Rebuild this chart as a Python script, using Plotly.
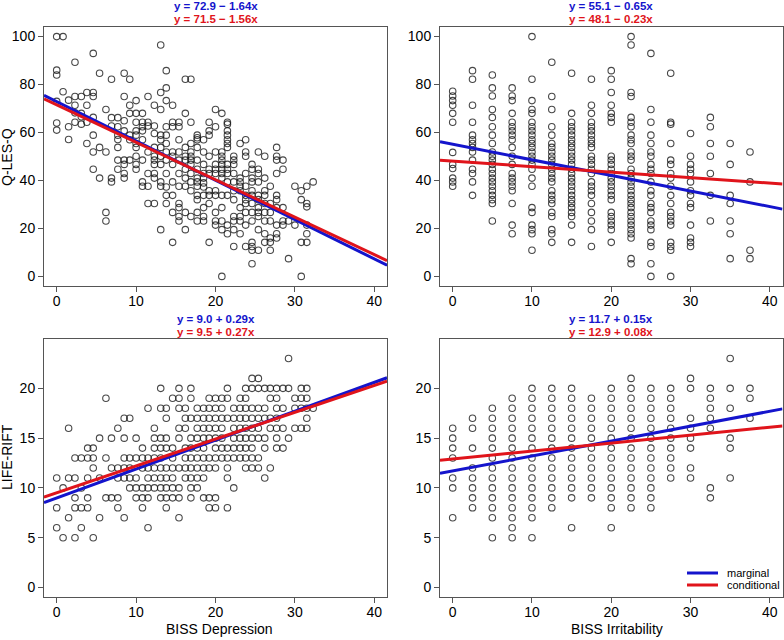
import plotly.graph_objects as go

# ---------------- data ----------------
# top-left: BISS Depression (x columns) vs Q-LES-Q
dep_cols = [0, 0.8, 1.5, 2.3, 3.1, 3.8, 4.6, 5.4, 6.2, 6.9, 7.7, 8.5, 9.2, 10, 10.8,
            11.5, 12.3, 13.1, 13.8, 14.6, 15.4, 16.2, 16.9, 17.7, 18.5, 19.2, 20,
            20.8, 21.5, 22.3, 23.1, 23.8, 24.6, 25.4, 26.2, 26.9, 27.7, 28.5, 29.2,
            30, 30.8, 31.5, 32.3]
qles_by_dep = [
    [100, 86, 84, 73, 64, 61],
    [100, 77],
    [73.5, 62.4, 57.1],
    [89.3, 75, 71.4, 68.2, 64.3],
    [75, 68, 66.6, 63.5],
    [76.7, 71.4, 64.3, 55.4],
    [93, 76.7, 75, 66.3, 58.9, 51.9, 44.7],
    [84.7, 53.8, 41],
    [69.6, 51.9, 26.7, 23.1],
    [82.2, 66.2, 62.7, 41, 39.4],
    [66.2, 62.4, 58.9, 57.1, 53.8, 48.5, 44.7],
    [84.7, 75, 64.9, 60.7, 48.5, 46.7, 42.9, 41],
    [82.2, 71.4, 68, 58.9, 57, 48.5],
    [73.3, 68, 64.3, 60.7, 58.9, 55.4, 53.8, 50.1, 46.7, 44.7],
    [68, 64.3, 62.4, 60.7, 57, 48.5, 39.4, 37.6],
    [75, 64.3, 62.7, 51.9, 42.9, 37.6, 30.4],
    [71.4, 62.7, 59.6, 53.8, 50.1, 48.5, 46.7, 42.9, 41, 30.4],
    [96.5, 76.7, 69.6, 58.9, 57, 53.8, 50.1, 46.7, 39.4, 37.6, 19.5],
    [85.8, 78.6, 73.3, 62.4, 58.9, 55.4, 51.9, 48.5, 42.9, 37.3, 33.8, 30.4],
    [71.4, 64.3, 62.4, 51.9, 50.1, 46.7, 39.4, 33.8, 26.7, 14.2],
    [64.3, 62.4, 57, 51.9, 48.5, 42.9, 37.6, 30.4, 28.7, 25, 23.1],
    [82.2, 68, 53.8, 50.1, 48.5, 44.7, 41, 37.6, 26.7, 19.5],
    [82.2, 64.3, 55.4, 51.9, 50.1, 48.5, 46.7, 42.9, 39.4, 35.7, 25],
    [58.9, 57.8, 57, 53.8, 48.5, 44.7, 41, 39.4, 37.6, 33.8, 32, 26.7, 23.1],
    [57, 51.9, 46.7, 42.9, 41, 39, 37.3, 33.8, 28.7, 25, 23.1],
    [64.3, 60.7, 58.9, 50.1, 44.7, 42.9, 35.7, 33.8, 30.4, 14.2],
    [69.6, 62.4, 51.9, 46.7, 44.7, 42.9, 35.7, 33.8, 26.7, 23.1, 21.4],
    [68, 51.9, 50.1, 48.5, 46.7, 44.7, 42.9, 41, 33.8, 28.7, 23.1, 19.5, 0],
    [64.3, 63.5, 60.7, 58.9, 57, 55.4, 53.8, 46.7, 44.7, 42.9, 39.4, 33.8, 21.4, 17.8],
    [50.1, 48.5, 46.7, 42.9, 39.4, 35.7, 32, 25, 23.1, 19.5, 12.5],
    [55.4, 41, 39.4, 37.6, 35.7, 28.7, 25, 23.1, 17.8],
    [57, 51.9, 50.1, 42.9, 37.6, 33.8, 32, 30.4, 26.7, 21.4, 12.5],
    [46.7, 44.7, 41, 39.4, 35.7, 33.8, 30.4, 26.7, 23.1, 14.2, 12.5, 10.9, 5.3],
    [51.9, 44.7, 42.9, 39.4, 33.8, 32, 28.7, 26.7, 25, 19.5, 10.9],
    [50.1, 41, 35.7, 33.8, 30.4, 26.7, 23.1, 17.8, 14.2],
    [37.6, 30.4, 26.7, 23.1, 16, 14.2, 10.9],
    [53.8, 50.1, 48.5, 42.9, 33.8, 32, 28.7, 21.4, 17.8, 16],
    [48.5, 44.7, 28.7, 23.1, 21.4],
    [23.1, 7.4],
    [37.6, 21.4],
    [35.7, 32, 14.2, 0],
    [37.6, 30.4, 29, 21.4, 17.8, 14.2],
    [39.4],
]

# top-right: BISS Irritability (x columns) vs Q-LES-Q
irr_cols = [0, 2.5, 5, 7.5, 10, 12.5, 15, 17.5, 20, 22.5, 25, 27.5, 30, 32.5, 35, 37.5]
qles_by_irr = [
    [77.2, 75.2, 73.3, 71.4, 68, 64.3, 51.7, 46.7, 45, 41, 39.4, 37.6],
    [85.8, 82.2, 71.4, 64.3, 58.9, 57, 55.4, 53.8, 51.9, 48.5, 44.7, 42.9, 39.4, 33.8],
    [84, 78.6, 75.2, 69.6, 66.3, 62.4, 58.9, 55.4, 51.9, 50.1, 48.5, 46.7, 44.7, 42.9,
     41, 39.4, 37.6, 35.7, 33.8, 32, 30.4, 23.1],
    [78.6, 75.2, 73.3, 68, 64.3, 62.4, 60.7, 58.9, 57, 53.8, 50.1, 46.7, 42.9, 41, 39.4,
     37.6, 35.7, 30.4, 21.4, 17.8],
    [100, 82.2, 73.3, 69.6, 68, 64.3, 62.4, 60.7, 58.9, 57, 55.4, 53.8, 51.9, 50.1, 48.5,
     46.7, 44.7, 41, 37.6, 28.7, 26.7, 21.4, 19.5, 17.8, 10.9],
    [89.3, 75, 69.6, 62.4, 58.9, 55.4, 53.8, 51.9, 50.1, 48.5, 46.7, 44.7, 42.9, 41, 39.4,
     35.7, 33.8, 32, 30.4, 26.7, 25, 19.5, 17.8, 14.2],
    [84.7, 68, 64.3, 62.4, 60.7, 58.9, 57, 55.4, 53.8, 51.9, 50.1, 48.5, 46.7, 44.7, 42.9,
     41, 39.4, 37.6, 35.7, 33.8, 32, 30.4, 28.7, 26.7, 25, 21.4, 14.2],
    [82.2, 71.4, 68, 64.3, 62.4, 60.7, 58.9, 57, 55.4, 53.8, 50.1, 48.5, 46.7, 44.7, 42.9,
     39.4, 37.6, 35.7, 33.8, 30.4, 26.7, 23.1, 19.5, 12.5],
    [85.8, 82.2, 76.7, 71.4, 68, 66.3, 64.3, 50.1, 48.5, 46.7, 44.7, 42.9, 41, 39.4, 37.6,
     35.7, 33.8, 32, 26.7, 25, 23.1, 21.4, 19.5, 14.2],
    [100, 96.5, 76.7, 75, 66.3, 64.3, 62.4, 58.9, 57, 55.4, 51.9, 50.1, 48.5, 44.7, 42.9,
     41, 39.4, 37.6, 35.7, 33.8, 32, 30.4, 28.7, 26.7, 25, 23.1, 21.4, 19.5, 17.8, 16,
     7.4, 5.3],
    [93, 69.6, 64.3, 58.9, 55.4, 51.9, 50.1, 46.7, 44.7, 42.9, 39.4, 35.7, 33.8, 30.4,
     28.7, 26.7, 23.1, 21.4, 19.5, 14.2, 12.5, 5.3, 0],
    [84.7, 64.3, 63.5, 55.4, 48.5, 46.7, 42.9, 41, 37.6, 33.8, 30.4, 26.7, 25, 23.1, 21.4,
     14.2, 12.5, 10.9, 0],
    [59.6, 50.1, 46.7, 44.7, 42.9, 39.4, 35.7, 33.8, 30.4, 28.7, 21.4, 16, 14.2, 12.5],
    [66.3, 62.4, 55.4, 50.1, 42.9, 33.8, 23.1],
    [55.4, 46.7, 33.8, 30.4, 23.1, 17.8, 7.4],
    [51.9, 39.4, 10.9, 7.4],
]

# bottom-left: LIFE-RIFT (rows) vs BISS Depression
rift_rows = [23, 21, 20, 19, 18, 17, 16, 15, 14, 13, 12, 11, 10, 9, 8, 7, 6, 5]
dep_by_rift = [
    [29.2],
    [24.6, 25.4],
    [13.1, 15.4, 16.9, 21.5, 23.8, 24.6, 25.4, 26.2, 26.9, 27.7, 28.5, 29.2, 30.8, 31.5],
    [6.2, 14.6, 15.4, 16.9, 19.2, 20, 20.8, 21.5, 23.1, 23.8, 26.9, 27.7, 30, 30.8, 31.5],
    [11.5, 13.1, 13.8, 15.4, 16.2, 17.7, 18.5, 19.2, 20, 20.8, 22.3, 23.1, 23.8, 24.6,
     25.4, 26.2, 27.7, 28.5, 30, 30.8, 31.5, 32.3],
    [8.5, 9.2, 13.8, 16.2, 16.9, 17.7, 18.5, 19.2, 20, 20.8, 21.5, 22.3, 23.1, 23.8, 24.6,
     25.4, 26.2, 26.9, 27.7, 31.5],
    [1.5, 7.7, 12.3, 15.4, 16.2, 17.7, 18.5, 19.2, 20, 20.8, 22.3, 23.1, 23.8, 24.6, 25.4,
     26.9, 27.7, 28.5, 30, 30.8, 31.5],
    [5.4, 6.9, 8.5, 10, 12.3, 13.1, 13.8, 15.4, 16.9, 17.7, 18.5, 19.2, 20, 20.8, 22.3,
     23.1, 23.8, 24.6, 25.4, 26.2, 27.7, 29.2],
    [3.9, 4.6, 10.8, 12.3, 13.1, 13.8, 14.6, 16.2, 16.9, 17.7, 18.5, 20, 20.8, 21.5, 22.3,
     23.1, 23.8, 24.6, 26.2, 27.7, 28.5],
    [2.3, 3.1, 3.9, 4.6, 6.2, 8.5, 9.2, 10, 10.8, 11.5, 12.3, 13.1, 14.6, 16.2, 16.9, 17.7,
     18.5, 19.2, 20, 20.8, 21.5, 22.3, 23.1, 23.8, 24.6, 25.4],
    [4.6, 6.9, 7.7, 8.5, 9.2, 10.8, 11.5, 12.3, 13.1, 13.8, 14.6, 15.4, 16.2, 16.9, 17.7,
     18.5, 19.2, 20, 21.5, 23.8, 24.6, 25.4, 26.9],
    [0, 1.5, 2.3, 3.9, 5.4, 7.7, 8.5, 9.2, 10, 11.5, 12.3, 13.1, 13.8, 14.6, 16.2, 16.9,
     17.7, 18.5, 21.5, 26.2],
    [0.8, 3.1, 9.2, 10, 10.8, 11.5, 12.3, 13.1, 13.8, 14.6, 15.4, 16.9, 17.7, 22.3],
    [2.3, 3.9, 6.2, 6.9, 7.7, 10, 10.8, 11.5, 13.1, 13.8, 14.6, 15.4, 16.9, 18.5, 19.2, 20],
    [0, 2.3, 3.1, 3.9, 7.7, 10.8, 13.8, 19.2, 20, 21.5],
    [1.5, 5.4, 8.5, 15.4],
    [0, 3.1, 11.5],
    [0.8, 2.3, 4.6],
]

# bottom-right: BISS Irritability (x columns) vs LIFE-RIFT
rift_by_irr = [
    [16, 15, 14, 13, 11, 10, 7],
    [17, 16, 14, 12, 11, 10, 9, 8],
    [18, 17, 16, 15, 14, 13, 12, 11, 10, 9, 8, 7, 5],
    [19, 18, 17, 16, 15, 14, 13, 12, 11, 10, 9, 8, 7, 6, 5],
    [20, 19, 18, 17, 16, 15, 14, 13, 12, 11, 10, 9, 8, 7, 5],
    [20, 19, 18, 17, 16, 15, 14, 13, 12, 11, 10, 9, 8],
    [20, 19, 18, 17, 16, 15, 14, 13, 12, 11, 10, 9, 6],
    [19, 18, 17, 16, 15, 14, 13, 12, 11, 10, 9],
    [20, 19, 18, 17, 16, 15, 14, 13, 12, 11, 10, 9, 8, 6],
    [21, 20, 19, 18, 17, 16, 15, 14, 13, 12, 11, 10, 9, 8],
    [20, 19, 18, 17, 16, 15, 14, 13, 12, 11, 10, 9, 8],
    [20, 19, 18, 17, 16, 15, 14, 13, 12, 11],
    [21, 20, 17, 16, 15, 14, 12, 11],
    [20, 19, 18, 17, 16, 10, 9],
    [23, 20, 18, 15, 14, 11],
    [20, 19, 17],
]

# regression coefficients, panels in order TL, TR, BL, BR
marg_icpt = [72.9, 55.1, 9.0, 11.7]
marg_slope = [-1.64, -0.65, 0.29, 0.15]
cond_icpt = [71.5, 48.1, 9.5, 12.9]
cond_slope = [-1.56, -0.23, 0.27, 0.08]

BLUE = '#1414CC'
RED = '#E0141B'
PT = 'rgba(20,20,20,0.78)'
FONT = 'Liberation Sans, Arial, Helvetica, sans-serif'
XR = [-1.6, 41.6]
W, H = 784, 640


def expand_cols(cols, vals):
    xs, ys = [], []
    for c, vs in zip(cols, vals):
        for v in vs:
            xs.append(c)
            ys.append(v)
    return xs, ys


panels = [
    expand_cols(dep_cols, qles_by_dep),
    expand_cols(irr_cols, qles_by_irr),
    expand_cols(rift_rows, dep_by_rift)[::-1],
    expand_cols(irr_cols, rift_by_irr),
]
axes = [('x', 'y'), ('x2', 'y2'), ('x3', 'y3'), ('x4', 'y4')]

fig = go.Figure()
for i, ((px, py), (xa, ya)) in enumerate(zip(panels, axes)):
    fig.add_trace(go.Scatter(x=px, y=py, mode='markers', xaxis=xa, yaxis=ya,
                             marker=dict(symbol='circle-open', size=6.5, color=PT,
                                         line=dict(width=1.1, color=PT)),
                             showlegend=False))
    for a, b, col in [(marg_icpt[i], marg_slope[i], BLUE), (cond_icpt[i], cond_slope[i], RED)]:
        fig.add_trace(go.Scatter(x=XR, y=[a + b * XR[0], a + b * XR[1]], mode='lines',
                                 xaxis=xa, yaxis=ya, line=dict(color=col, width=3),
                                 showlegend=False))


def xax(dom):
    return dict(domain=dom, range=XR, tickvals=[0, 10, 20, 30, 40], ticks='outside',
                ticklen=5, tickcolor='#555', showline=True, mirror=True, linecolor='#555',
                linewidth=1, showgrid=False, zeroline=False, ticklabelstandoff=-3,
                tickfont=dict(size=14, color='black', family=FONT))


def yax(dom, rng, tv, anchor):
    return dict(domain=dom, range=rng, tickvals=tv, ticks='outside', ticklen=5,
                tickcolor='#555', showline=True, mirror=True, linecolor='#555',
                linewidth=1, showgrid=False, zeroline=False, anchor=anchor,
                tickfont=dict(size=14, color='black', family=FONT))


def fx(p):
    return p / W


def fy(p):
    return 1 - p / H


xl = [fx(44), fx(387)]
xr = [fx(440), fx(782.5)]
yt = [fy(286), fy(27)]
yb = [fy(597), fy(339)]
top_rng = [-4, 104]
bot_rng = [-0.96, 24.96]

fig.update_layout(
    width=W, height=H, margin=dict(l=0, r=0, t=0, b=0),
    paper_bgcolor='white', plot_bgcolor='white',
    font=dict(family=FONT, color='black'),
    xaxis=dict(xax(xl), anchor='y'),
    yaxis=yax(yt, top_rng, [0, 20, 40, 60, 80, 100], 'x'),
    xaxis2=dict(xax(xr), anchor='y2'),
    yaxis2=yax(yt, top_rng, [0, 20, 40, 60, 80, 100], 'x2'),
    xaxis3=dict(xax(xl), anchor='y3'),
    yaxis3=yax(yb, bot_rng, [0, 5, 10, 15, 20], 'x3'),
    xaxis4=dict(xax(xr), anchor='y4'),
    yaxis4=yax(yb, bot_rng, [0, 5, 10, 15, 20], 'x4'),
)


def eq(a, b):
    sign = '+' if b >= 0 else '\u2212'
    return f'y = {a:.1f} {sign} {abs(b):.2f}x'


def note(x, y, text, size, color='black', xanchor='center', angle=0):
    return dict(x=x, y=y, xref='paper', yref='paper', showarrow=False, text=text,
                xanchor=xanchor, yanchor='middle', textangle=angle,
                font=dict(size=size, color=color, family=FONT))


ann = []
centers = [(xl[0] + xl[1]) / 2, (xr[0] + xr[1]) / 2]
title_y = [(fy(6), fy(19)), (fy(319), fy(332))]
for i in range(4):
    cx = centers[i % 2]
    by, ry = title_y[i // 2]
    ann.append(note(cx, by, '<b>' + eq(marg_icpt[i], marg_slope[i]) + '</b>', 11.5, BLUE))
    ann.append(note(cx, ry, '<b>' + eq(cond_icpt[i], cond_slope[i]) + '</b>', 11.5, RED))

ann += [
    note(fx(220), fy(629), 'BISS Depression', 14),
    note(fx(617), fy(629), 'BISS Irritability', 14),
    note(fx(7), fy(157), 'Q-LES-Q', 14, angle=-90),
    note(fx(7), fy(457), 'LIFE-RIFT', 14, angle=-90),
    note(fx(725), fy(573), 'marginal', 11, xanchor='left'),
    note(fx(725), fy(585), 'conditional', 11, xanchor='left'),
]
fig.update_layout(annotations=ann)

# legend keys
for yy, col in [(573, BLUE), (585, RED)]:
    fig.add_shape(type='line', xref='paper', yref='paper',
                  x0=fx(687), x1=fx(718), y0=fy(yy), y1=fy(yy),
                  line=dict(color=col, width=3))

fig.write_html("out.html", config={'displayModeBar': False},
               post_script="document.body.style.margin='0';")
